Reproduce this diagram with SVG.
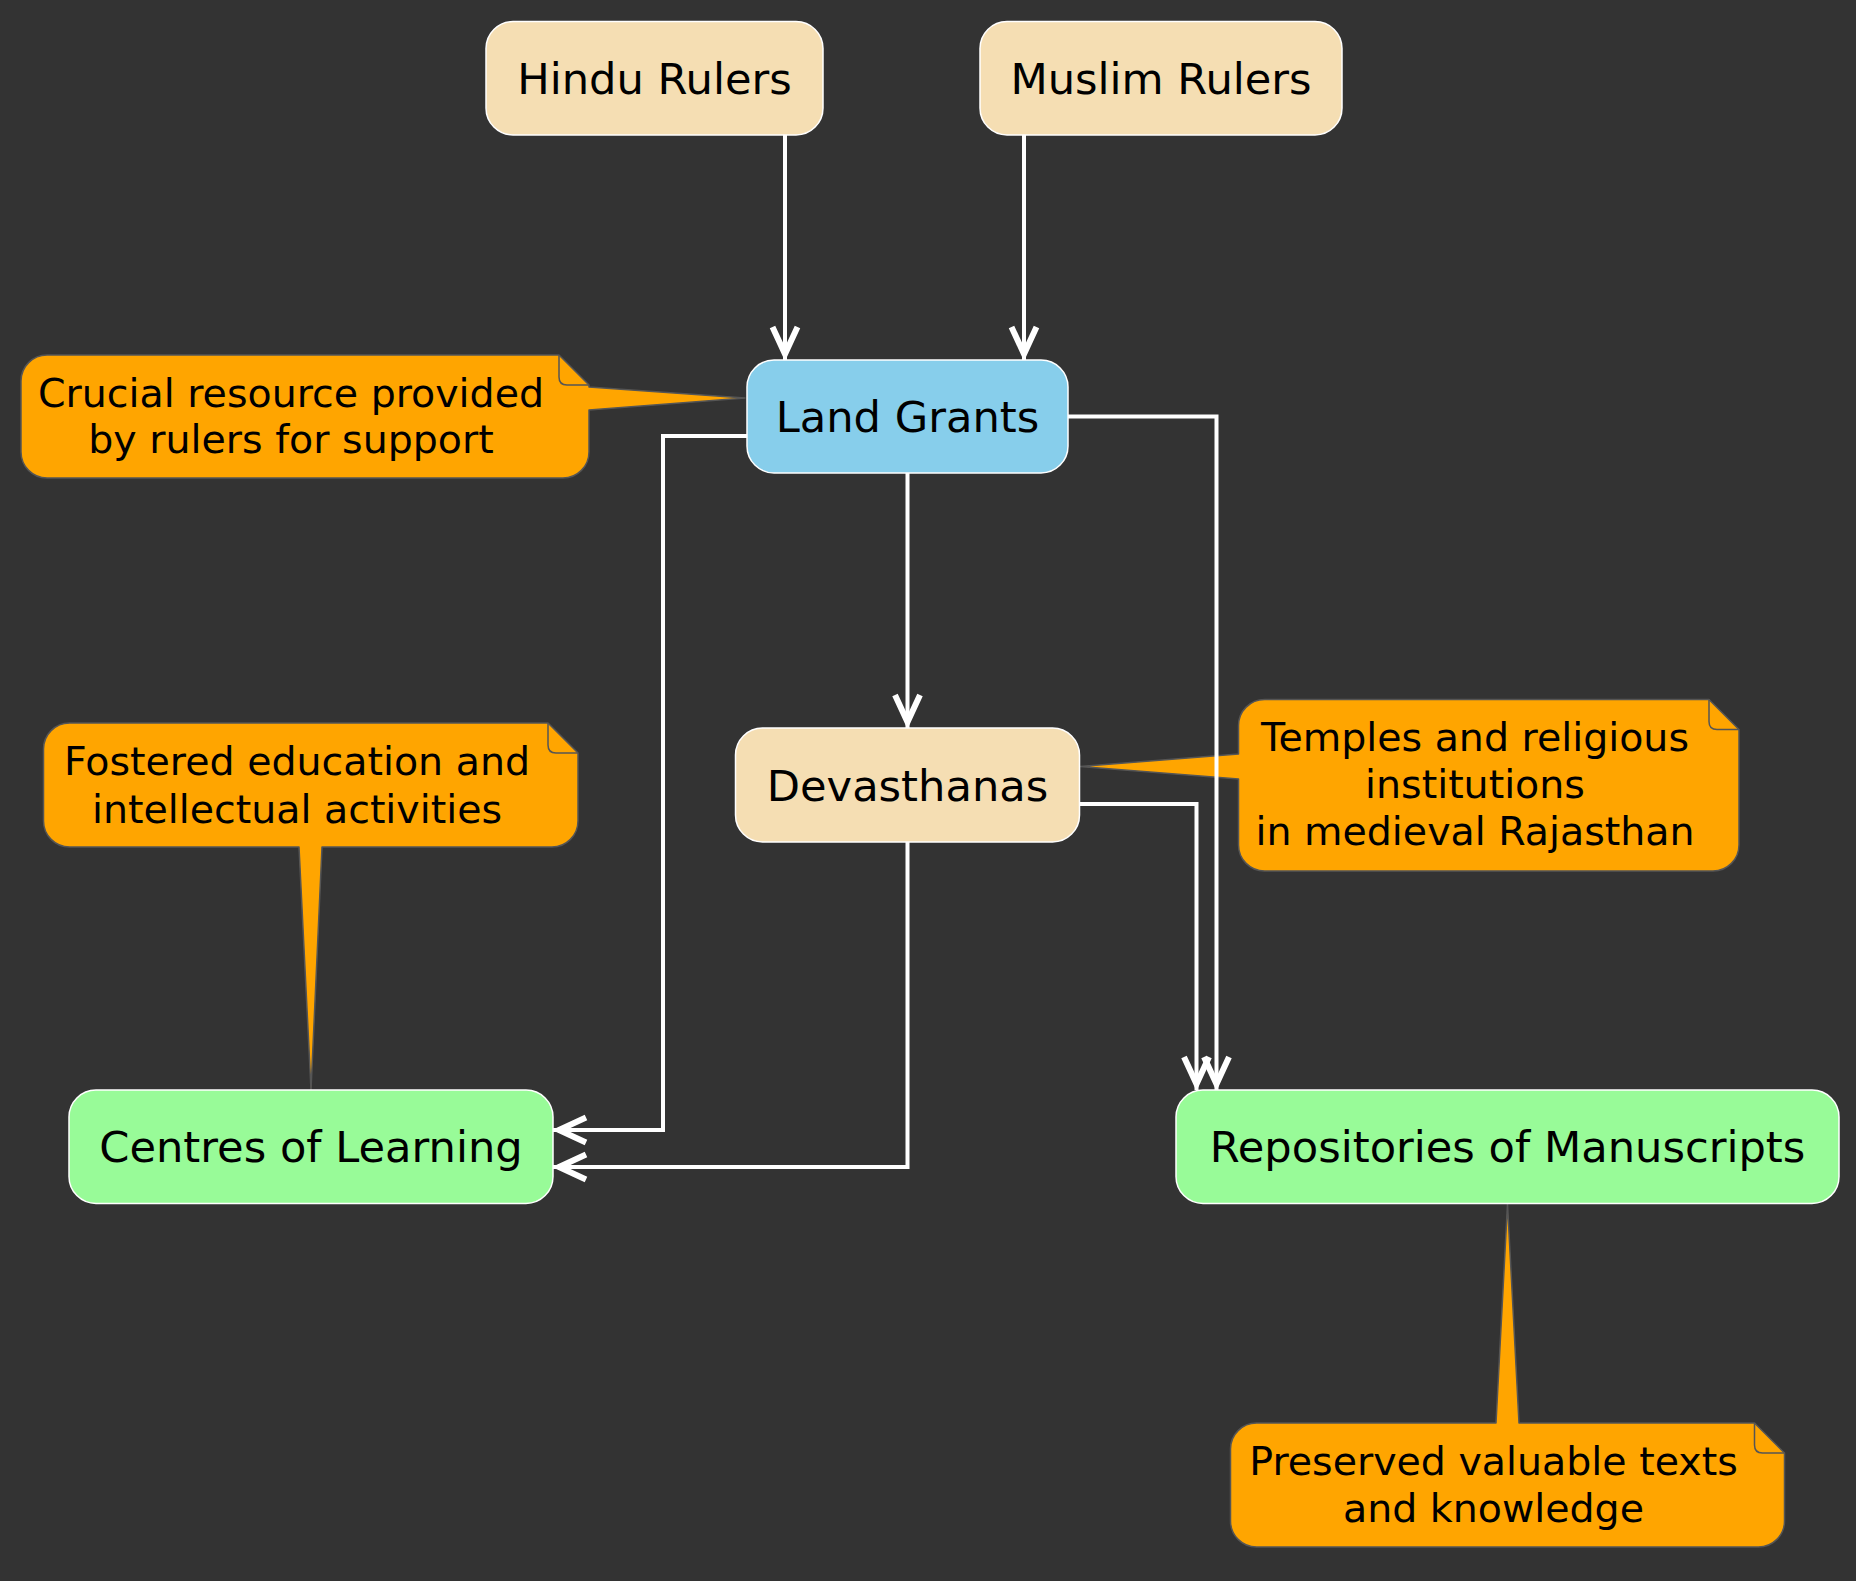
<svg xmlns="http://www.w3.org/2000/svg" width="1856" height="1581" viewBox="0 0 1856 1581">
<defs>
<style>
.node{stroke:#ffffff;stroke-width:1.5}
.wheat{fill:#F5DEB3}
.blue{fill:#87CEEB}
.green{fill:#98FB98}
.ntext{font-family:"DejaVu Sans",Verdana,sans-serif;font-size:43.2px;fill:#000;text-anchor:middle}
.note{fill:#FFA500;stroke:#555555;stroke-width:1.5;stroke-linejoin:round}
.fold{fill:none;stroke:#555555;stroke-width:1.5}
.ttext{font-family:"DejaVu Sans",Verdana,sans-serif;font-size:39.5px;fill:#000;text-anchor:middle}
.edge{fill:none;stroke:#ffffff;stroke-width:4;marker-end:url(#arr)}
</style>
<marker id="arr" markerUnits="userSpaceOnUse" markerWidth="50" markerHeight="50" viewBox="-40 -25 50 50" refX="6" refY="0" orient="auto" overflow="visible">
<path d="M -27,-12.5 L 0,0 L -27,12.5" fill="none" stroke="#ffffff" stroke-width="6" stroke-linejoin="miter" stroke-miterlimit="10"/>
</marker>
</defs>
<rect x="0" y="0" width="1856" height="1581" fill="#333333"/>

<g id="notes">
<g id="note-land">
<path class="note" d="M 47,355 L 559,355 L 589,385 L 589,387 L 745,398 L 589,410 L 589,452 A 26 26 0 0 1 563,478 L 47,478 A 26 26 0 0 1 21,452 L 21,381 A 26 26 0 0 1 47,355 Z"/>
<path class="fold" d="M 559,355 L 559,377 Q 559,385 567,385 L 589,385"/>
<text class="ttext" x="291" y="406.7">Crucial resource provided</text>
<text class="ttext" x="291" y="452.7">by rulers for support</text>
</g>
<g id="note-centres">
<path class="note" d="M 69.5,723 L 548,723 L 578,753 L 578,821 A 26 26 0 0 1 552,847 L 322,847 L 311,1090 L 299,847 L 69.5,847 A 26 26 0 0 1 43.5,821 L 43.5,749 A 26 26 0 0 1 69.5,723 Z"/>
<path class="fold" d="M 548,723 L 548,745 Q 548,753 556,753 L 578,753"/>
<text class="ttext" x="297" y="775">Fostered education and</text>
<text class="ttext" x="297" y="822.7">intellectual activities</text>
</g>
<g id="note-deva">
<path class="note" d="M 1264.5,699.5 L 1709,699.5 L 1739,729.5 L 1739,845 A 26 26 0 0 1 1713,871 L 1264.5,871 A 26 26 0 0 1 1238.5,845 L 1238.5,779 L 1080,766.5 L 1238.5,754 L 1238.5,725.5 A 26 26 0 0 1 1264.5,699.5 Z"/>
<path class="fold" d="M 1709,699.5 L 1709,721.5 Q 1709,729.5 1717,729.5 L 1739,729.5"/>
<text class="ttext" x="1475" y="751.4">Temples and religious</text>
<text class="ttext" x="1475" y="798">institutions</text>
<text class="ttext" x="1475" y="845">in medieval Rajasthan</text>
</g>
<g id="note-repo">
<path class="note" d="M 1256.5,1423 L 1496,1423 L 1507.5,1204 L 1519,1423 L 1754.5,1423 L 1784.5,1453 L 1784.5,1521 A 26 26 0 0 1 1758.5,1547 L 1256.5,1547 A 26 26 0 0 1 1230.5,1521 L 1230.5,1449 A 26 26 0 0 1 1256.5,1423 Z"/>
<path class="fold" d="M 1754.5,1423 L 1754.5,1445 Q 1754.5,1453 1762.5,1453 L 1784.5,1453"/>
<text class="ttext" x="1493.5" y="1475">Preserved valuable texts</text>
<text class="ttext" x="1493.5" y="1521.7">and knowledge</text>
</g>
</g>

<g id="connectors">
<path class="edge" d="M 785,135 L 785,360"/>
<path class="edge" d="M 1024,135 L 1024,360"/>
<path class="edge" d="M 907.5,473 L 907.5,728"/>
<path class="edge" d="M 747,436 L 663,436 L 663,1130 L 553,1130"/>
<path class="edge" d="M 907.5,842 L 907.5,1167 L 553,1167"/>
<path class="edge" d="M 1068,416.5 L 1216.5,416.5 L 1216.5,1090"/>
<path class="edge" d="M 1080,804 L 1196.5,804 L 1196.5,1090"/>
</g>

<g id="hindu">
<rect class="node wheat" x="486" y="21.5" width="337" height="113.5" rx="27"/>
<text class="ntext" x="654.5" y="94">Hindu Rulers</text>
</g>
<g id="muslim">
<rect class="node wheat" x="980" y="21.5" width="362" height="113.5" rx="27"/>
<text class="ntext" x="1161" y="94">Muslim Rulers</text>
</g>
<g id="land">
<rect class="node blue" x="747" y="360" width="321" height="113" rx="27"/>
<text class="ntext" x="907.5" y="432.2">Land Grants</text>
</g>
<g id="deva">
<rect class="node wheat" x="735.5" y="728" width="344" height="114" rx="27"/>
<text class="ntext" x="907.5" y="800.5">Devasthanas</text>
</g>
<g id="centres">
<rect class="node green" x="69" y="1090" width="484" height="113.5" rx="27"/>
<text class="ntext" x="311" y="1162.4">Centres of Learning</text>
</g>
<g id="repo">
<rect class="node green" x="1176" y="1090" width="663" height="113.5" rx="27"/>
<text class="ntext" x="1507.5" y="1162.4">Repositories of Manuscripts</text>
</g>
</svg>
